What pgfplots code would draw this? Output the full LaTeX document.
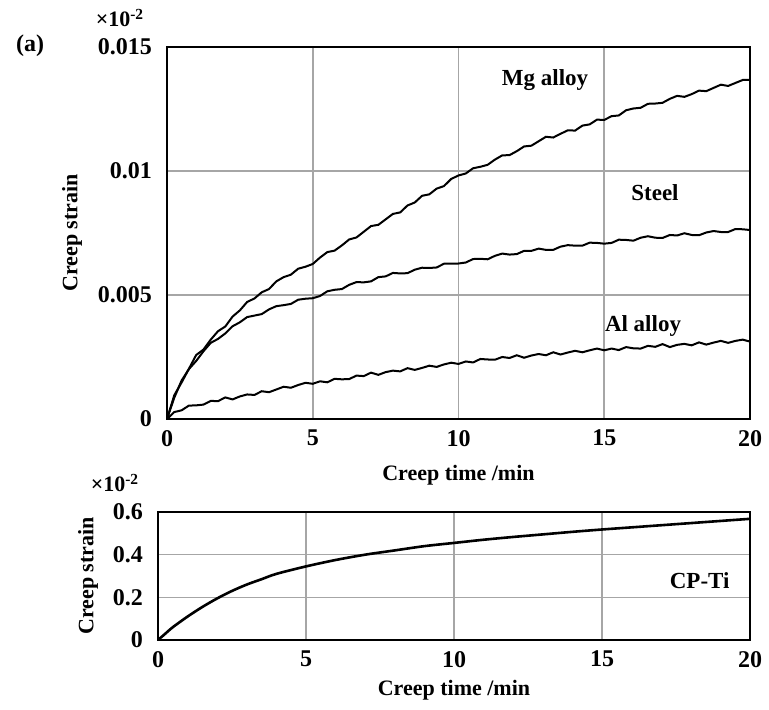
\documentclass[border=0pt]{standalone}
\usepackage{pgfplots}
\pgfplotsset{compat=1.18}
\usepackage{fontspec}
\setmainfont{Liberation Serif}
\begin{document}
\begin{tikzpicture}
\useasboundingbox (0pt,0pt) rectangle (384.5pt,-355pt);
\pgfplotsset{
  every axis/.append style={
    scale only axis,
    xmin=0, xmax=20,
    axis line style={line width=1.1pt, black},
    grid=major,
    major grid style={line width=0.8pt, gray!70},
    major tick length=0pt,
    tick label style={font=\fontsize{12}{14}\selectfont\bfseries},
    label style={font=\fontsize{11}{13}\selectfont\bfseries},
    xtick={0,5,10,15,20},
    xticklabels={0,5,10,15,20},
    xticklabel style={yshift=-2pt},
    yticklabel style={xshift=-4pt},
  }
}
% top axis
\begin{axis}[
  at={(83.5pt,-209.5pt)}, anchor=south west,
  width=291.5pt, height=186pt,
  ymin=0, ymax=15,
  ytick={0,5,10,15},
  yticklabels={0,0.005,0.01,0.015},
  xlabel={Creep time /min},
  ylabel={Creep strain},
  xlabel style={at={(axis description cs:0.5,-0.1505)}, anchor=center},
  ylabel style={at={(axis description cs:-0.163,0.5)}, anchor=center},
]
\addplot[black, line width=1pt] coordinates {
(0,0) (0.25,0.96) (0.5,1.47) (0.75,2.02) (1,2.58) (1.25,2.80) (1.5,3.2) (1.75,3.54) (2,3.73) (2.25,4.13) (2.5,4.38) (2.75,4.72) (3,4.86) (3.25,5.11) (3.5,5.24) (3.75,5.55) (4,5.72) (4.25,5.82) (4.5,6.06) (4.75,6.14) (5,6.25) (5.25,6.51) (5.5,6.73) (5.75,6.79) (6,7.0) (6.25,7.24) (6.5,7.32) (6.75,7.55) (7,7.78) (7.25,7.83) (7.5,8.05) (7.75,8.27) (8,8.33) (8.25,8.61) (8.5,8.73) (8.75,9.0) (9,9.06) (9.25,9.29) (9.5,9.39) (9.75,9.68) (10,9.82) (10.25,9.9) (10.5,10.11) (10.75,10.17) (11,10.25) (11.25,10.46) (11.5,10.63) (11.75,10.64) (12,10.8) (12.25,10.99) (12.5,11.02) (12.75,11.2) (13,11.38) (13.25,11.35) (13.5,11.5) (13.75,11.64) (14,11.63) (14.25,11.83) (14.5,11.88) (14.75,12.07) (15,12.06) (15.25,12.21) (15.5,12.24) (15.75,12.45) (16,12.52) (16.25,12.55) (16.5,12.71) (16.75,12.72) (17,12.75) (17.25,12.91) (17.5,13.03) (17.75,12.99) (18,13.1) (18.25,13.24) (18.5,13.22) (18.75,13.35) (19,13.48) (19.25,13.43) (19.5,13.55) (19.75,13.67) (20,13.68)
};
\addplot[black, line width=1pt] coordinates {
(0,0) (0.25,0.86) (0.5,1.55) (0.75,2.01) (1,2.34) (1.25,2.73) (1.5,3.07) (1.75,3.23) (2,3.45) (2.25,3.74) (2.5,3.9) (2.75,4.11) (3,4.17) (3.25,4.23) (3.5,4.42) (3.75,4.55) (4,4.59) (4.25,4.64) (4.5,4.81) (4.75,4.85) (5,4.87) (5.25,4.96) (5.5,5.15) (5.75,5.21) (6,5.24) (6.25,5.41) (6.5,5.52) (6.75,5.51) (7,5.55) (7.25,5.72) (7.5,5.75) (7.75,5.89) (8,5.87) (8.25,5.88) (8.5,6.02) (8.75,6.1) (9,6.09) (9.25,6.11) (9.5,6.26) (9.75,6.27) (10,6.27) (10.25,6.31) (10.5,6.45) (10.75,6.46) (11,6.44) (11.25,6.58) (11.5,6.67) (11.75,6.63) (12,6.65) (12.25,6.78) (12.5,6.78) (12.75,6.87) (13,6.82) (13.25,6.82) (13.5,6.95) (13.75,7.01) (14,6.99) (14.25,6.99) (14.5,7.11) (14.75,7.1) (15,7.07) (15.25,7.1) (15.5,7.23) (15.75,7.22) (16,7.19) (16.25,7.31) (16.5,7.37) (16.75,7.31) (17,7.3) (17.25,7.42) (17.5,7.4) (17.75,7.49) (18,7.42) (18.25,7.41) (18.5,7.52) (18.75,7.58) (19,7.54) (19.25,7.54) (19.5,7.66) (19.75,7.65) (20,7.62)
};
\addplot[black, line width=1pt] coordinates {
(0,0) (0.25,0.28) (0.5,0.35) (0.75,0.54) (1,0.55) (1.25,0.58) (1.5,0.73) (1.75,0.72) (2,0.87) (2.25,0.79) (2.5,0.91) (2.75,0.99) (3,0.97) (3.25,1.12) (3.5,1.08) (3.75,1.19) (4,1.3) (4.25,1.26) (4.5,1.37) (4.75,1.46) (5,1.42) (5.25,1.52) (5.5,1.48) (5.75,1.62) (6,1.6) (6.25,1.61) (6.5,1.75) (6.75,1.73) (7,1.87) (7.25,1.78) (7.5,1.89) (7.75,1.95) (8,1.92) (8.25,2.05) (8.5,1.98) (8.75,2.06) (9,2.15) (9.25,2.1) (9.5,2.2) (9.75,2.27) (10,2.22) (10.25,2.32) (10.5,2.28) (10.75,2.42) (11,2.4) (11.25,2.39) (11.5,2.5) (11.75,2.46) (12,2.57) (12.25,2.47) (12.5,2.56) (12.75,2.62) (13,2.57) (13.25,2.69) (13.5,2.6) (13.75,2.68) (14,2.75) (14.25,2.69) (14.5,2.77) (14.75,2.84) (15,2.77) (15.25,2.84) (15.5,2.78) (15.75,2.9) (16,2.85) (16.25,2.84) (16.5,2.95) (16.75,2.91) (17,3.02) (17.25,2.9) (17.5,2.99) (17.75,3.03) (18,2.97) (18.25,3.09) (18.5,3.0) (18.75,3.08) (19,3.15) (19.25,3.07) (19.5,3.15) (19.75,3.2) (20,3.12)
};
\node[font=\fontsize{11.5}{13}\selectfont\bfseries] at (axis cs:12.97,13.67) {Mg alloy};
\node[font=\fontsize{11.5}{13}\selectfont\bfseries] at (axis cs:16.74,9.11) {Steel};
\node[font=\fontsize{11.5}{13}\selectfont\bfseries] at (axis cs:16.33,3.75) {Al alloy};
\end{axis}
% bottom axis
\begin{axis}[
  at={(79pt,-320pt)}, anchor=south west,
  width=296pt, height=64pt,
  ymin=0, ymax=0.6,
  ytick={0,0.2,0.4,0.6},
  yticklabels={0,0.2,0.4,0.6},
  xlabel={Creep time /min},
  ylabel={Creep strain},
  xlabel style={at={(axis description cs:0.5,-0.39)}, anchor=center},
  ylabel style={at={(axis description cs:-0.118,0.5)}, anchor=center},
]
\addplot[black, line width=1.3pt, smooth] coordinates {
(0,0) (0.25,0.03) (0.5,0.06) (1,0.11) (1.5,0.155) (2,0.195) (2.5,0.23) (3,0.26) (3.5,0.285) (4,0.31) (5,0.345) (6,0.375) (7,0.4) (8,0.42) (9,0.44) (10,0.455) (11,0.47) (12,0.483) (13,0.495) (14,0.507) (15,0.518) (16,0.528) (17,0.538) (18,0.548) (19,0.558) (20,0.568)
};
\node[font=\fontsize{11.5}{13}\selectfont\bfseries] at (axis cs:18.3,0.28) {CP-Ti};
\end{axis}
\node[font=\fontsize{11}{13}\selectfont\bfseries] at (60pt,-9pt) {×10\textsuperscript{-2}};
\node[font=\fontsize{11}{13}\selectfont\bfseries] at (57.5pt,-241.5pt) {×10\textsuperscript{-2}};
\node[font=\fontsize{12}{14}\selectfont\bfseries] at (15pt,-23pt) {(a)};
\end{tikzpicture}
\end{document}
